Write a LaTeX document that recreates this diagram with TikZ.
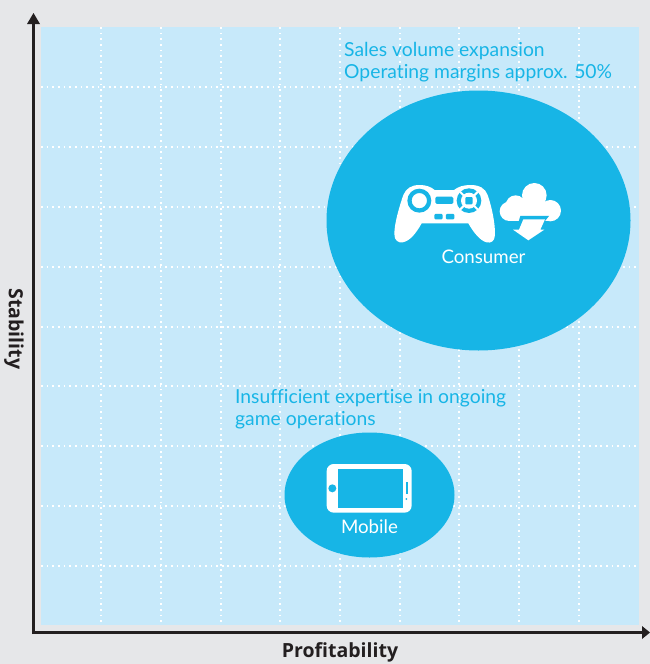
\documentclass[tikz,border=0pt]{standalone}
\usepackage{fontspec}
\setmainfont{Lato}[Ligatures=NoCommon]
\newfontfamily\axfont{Open Sans}[Ligatures=NoCommon]
\usetikzlibrary{shapes.geometric}
\definecolor{bgc}{HTML}{E6E7E9}
\definecolor{plotc}{HTML}{C7E9FA}
\definecolor{cyanc}{HTML}{17B5E6}
\definecolor{axisc}{HTML}{231F20}
\tikzset{
  gridline/.style={white,line width=1.5pt,dash pattern=on 1.8pt off 3.85pt},
  axisline/.style={axisc,line width=2.6pt},
  axishead/.style={fill=axisc,draw=none},
  blob/.style={ellipse,fill=cyanc,draw=none,inner sep=0pt},
  note/.style={text=cyanc,font=\fontsize{19.3}{22}\selectfont,anchor=base west,inner sep=0pt},
  inlabel/.style={text=white,font=\fontsize{18.7}{20}\selectfont,anchor=base,inner sep=0pt},
  axlabel/.style={text=axisc,font=\axfont\bfseries\fontsize{19.5}{20}\selectfont,inner sep=0pt},
  icon/.style={fill=white,draw=none},
  hole/.style={fill=cyanc,draw=none}
}
\begin{document}
\begin{tikzpicture}[x=1pt,y=-1pt]
\useasboundingbox (0,0) rectangle (650,664);
\fill[bgc] (0,0) rectangle (650,664);
\fill[plotc] (41,27) rectangle (639,625);
\foreach \x in {101,161,221,280,340,400,459,519,579}
  \draw[gridline] (\x,27) -- (\x,625);
\foreach \y in {87,147,207,267,327,386,446,506,566}
  \draw[gridline] (41,\y) -- (639,\y);
% axes
\coordinate (origin) at (33.5,632.5);
\coordinate (ytip) at (33.5,13);
\coordinate (xtip) at (650,632.5);
\draw[axisline] (33.5,634) -- (33.5,22);
\draw[axisline] (32,632.5) -- (642,632.5);
\fill[axishead] (ytip) -- (40,24) -- (27,24) -- cycle;
\fill[axishead] (xtip) -- (642,626) -- (642,639) -- cycle;
\node[axlabel,rotate=-90] (stab) at (14,329) {Stability};
\node[axlabel] (prof) at (340,652.5) {Profitability};
% blobs
\node[blob,minimum width=304pt,minimum height=260pt] (consumer) at (478.5,220.5) {};
\node[blob,minimum width=170pt,minimum height=125pt] (mobile) at (369.5,495) {};
% notes
\node[note] (n1) at (344,56) {Sales volume expansion};
\node[note] (n2) at (344,78) {Operating margins approx. 50\%};
\node[note] (n3) at (235,403) {Insufficient expertise in ongoing};
\node[note] (n4) at (235,425) {game operations};
\node[inlabel] (l1) at (483.5,263) {Consumer};
\node[inlabel] (l2) at (369.5,533) {Mobile};
% gamepad
\begin{scope}[shift={(380,170)},x=0.3333pt,y=-0.3333pt]
\fill[icon] (118,45) .. controls (138,45) and (152,50) .. (164,60) -- (222,60)
  .. controls (235,50) and (250,45) .. (272,45) .. controls (298,45) and (316,55) .. (323,75)
  .. controls (335,110) and (346,160) .. (345,195) .. controls (344,215) and (332,220) .. (320,217)
  .. controls (302,213) and (282,190) .. (265,160) -- (125,160)
  .. controls (108,190) and (90,213) .. (68,217) .. controls (55,219) and (43,212) .. (43,192)
  .. controls (43,160) and (58,110) .. (70,75) .. controls (78,55) and (95,45) .. (118,45) -- cycle;
\fill[hole,even odd rule] (118,92) circle (36) (118,92) circle (23);
\fill[hole,rounded corners=1.5pt] (166,80) rectangle (220,102);
\fill[hole,rounded corners=1pt] (163,132) rectangle (188,148);
\fill[hole,rounded corners=1pt] (198,132) rectangle (223,148);
\fill[hole] (267,92) circle (37);
\draw[white,line width=2pt] (240,65) -- (294,119) (294,65) -- (240,119);
\fill[icon] (267,92) circle (24);
\fill[hole,rounded corners=1pt] (256,81) rectangle (278,103);
\end{scope}
% cloud
\begin{scope}[shift={(495,178)},x=0.3333pt,y=-0.3333pt]
\fill[icon] (118,52) circle (37);
\fill[icon] (62,82) circle (30);
\fill[icon] (43,100) circle (29);
\fill[icon] (166,98) circle (32);
\fill[icon] (43,85) rectangle (166,129);
\fill[icon] (70,60) rectangle (150,100);
\fill[hole] (62,160) -- (76,114) -- (162,114) -- (150,129) -- (148,160) -- cycle;
\fill[icon] (85,124) -- (150,124) -- (136,155) -- (148,155) -- (100,187) -- (54,155) -- (72,155) -- cycle;
\end{scope}
% phone
\begin{scope}[shift={(310,450)},x=0.3333pt,y=-0.3333pt]
\fill[icon,rounded corners=7pt] (50,42) rectangle (305,188);
\fill[hole] (84,56) rectangle (280,174);
\fill[hole] (67,115) circle (12);
\fill[hole] (287,96) rectangle (293,132);
\fill[hole] (289.5,147) circle (3);
\end{scope}
\end{tikzpicture}
\end{document}
